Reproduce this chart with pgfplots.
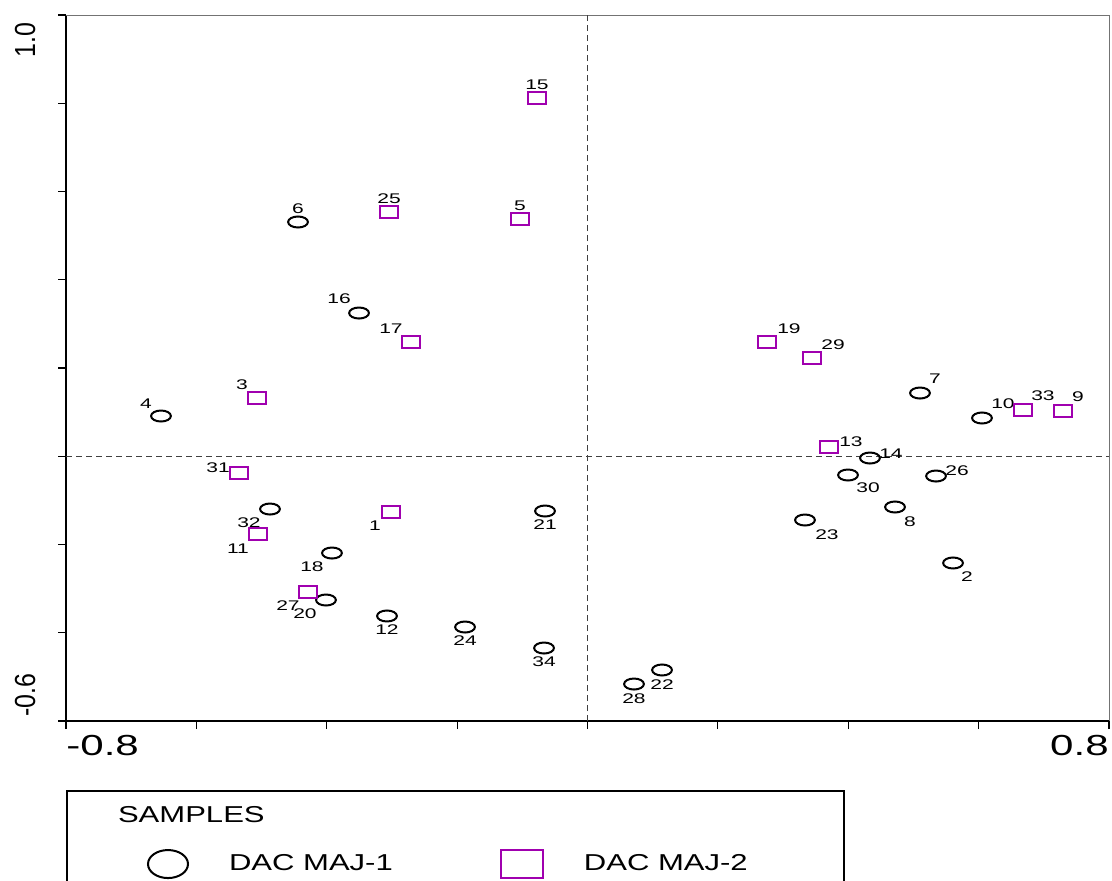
\documentclass[border=0pt]{standalone}
\usepackage{pgfplots}
\pgfplotsset{compat=1.18}
\usepackage{fontspec}
\setmainfont{Liberation Sans}
\usepackage{graphicx}
\definecolor{mag}{RGB}{160,0,175}
\begin{document}
\begin{tikzpicture}
\path[use as bounding box] (0,0) rectangle (556pt,440pt);
\clip (0,0) rectangle (556pt,440pt);
\begin{axis}[
  at={(33pt,79.5pt)}, anchor=south west,
  scale only axis, width=521.5pt, height=353pt,
  xmin=-0.8, xmax=0.8, ymin=-0.6, ymax=1.0,
  axis x line*=bottom, axis y line*=left,
  x axis line style={-, line width=1pt, black},
  y axis line style={-, line width=1pt, black},
  xtick={-0.8,-0.6,-0.4,-0.2,0,0.2,0.4,0.6,0.8},
  ytick={-0.6,-0.4,-0.2,0,0.2,0.4,0.6,0.8,1.0},
  xticklabels={}, yticklabels={},
  tick align=outside, major tick length=4pt,
  tick style={line width=0.6pt, black},
  clip=false,
  legend columns=2,
  legend cell align=left,
  legend style={
    at={(0,-0.0977)}, anchor=north west,
    draw=black, line width=1pt,
    inner xsep=40pt, inner ysep=7.5pt,
    font=\fontsize{11.5}{13}\selectfont,
    row sep=12pt,
    nodes={inner sep=0pt},
    /tikz/every odd column/.append style={column sep=20pt},
    /tikz/every even column/.append style={column sep=53.5pt},
  },
]
\addlegendimage{empty legend}
\addlegendentry{\makebox[0pt][l]{\hspace{-56pt}\scalebox{1.35}[1]{SAMPLES}}}
\addlegendimage{empty legend}
\addlegendentry{}
\addlegendimage{legend image code/.code={\draw[black,line width=1pt] (0pt,0pt) ellipse (10pt and 7pt);}}
\addlegendentry{\scalebox{1.35}[1]{DAC MAJ-1}}
\addlegendimage{legend image code/.code={\draw[mag,line width=1pt] (-10.5pt,-7pt) rectangle (10.5pt,7pt);}}
\addlegendentry{\scalebox{1.35}[1]{DAC MAJ-2}\hspace*{8pt}}

% frame top/right
\draw[black!55, line width=0.5pt] (rel axis cs:0,1) -- (rel axis cs:1,1) -- (rel axis cs:1,0);

% dashed zero lines
\addplot[forget plot, black!75, line width=0.5pt, dash pattern=on 3pt off 2pt] coordinates {(0,-0.6) (0,1.0)};
\addplot[forget plot, black!75, line width=0.5pt, dash pattern=on 3pt off 2pt] coordinates {(-0.8,0) (0.8,0)};

% DAC MAJ-1 (circles)
\addplot[forget plot, only marks, mark=o, mark size=2.75pt, black, line width=1pt,
  mark options={xscale=1.8},
  point meta=explicit symbolic,
  visualization depends on={\thisrow{dx} \as \mydx},
  visualization depends on={\thisrow{dy} \as \mydy},
  nodes near coords={\scalebox{1.5}[1]{\pgfplotspointmeta}},
  every node near coord/.append style={anchor=center, inner sep=0pt, xshift=\mydx pt, yshift=\mydy pt, font=\fontsize{7}{8}\selectfont, text=black},
] table[meta=lab] {
x y lab dx dy
-0.4441 0.5309 6 0 6.5
-0.3505 0.3246 16 -10 7
-0.6543 0.0912 4 -7.5 6
-0.4871 -0.1196 32 -10.5 -7
-0.3920 -0.2193 18 -10 -7
-0.4012 -0.3258 20 -10.5 -7
-0.3076 -0.3620 12 0 -7
-0.1879 -0.3870 24 0 -7
-0.0667 -0.4346 34 0 -7
-0.0652 -0.1241 21 0 -7
0.0713 -0.5162 28 0 -7.5
0.1143 -0.4844 22 0 -7.5
0.5100 0.1433 7 7.5 7
0.6051 0.0867 10 10.5 7
0.4333 -0.0040 14 10.5 2
0.3996 -0.0425 30 10 -6.5
0.5346 -0.0448 26 10.5 2.5
0.4717 -0.1150 8 7.5 -7.5
0.3336 -0.1445 23 11 -7.5
0.5607 -0.2419 2 7 -7
};

% DAC MAJ-2 (squares)
\addplot[forget plot, only marks, mark=square, mark size=3.1pt, mag, line width=1pt,
  mark options={xscale=1.5},
  point meta=explicit symbolic,
  visualization depends on={\thisrow{dx} \as \mydx},
  visualization depends on={\thisrow{dy} \as \mydy},
  nodes near coords={\scalebox{1.5}[1]{\pgfplotspointmeta}},
  every node near coord/.append style={anchor=center, inner sep=0pt, xshift=\mydx pt, yshift=\mydy pt, font=\fontsize{7}{8}\selectfont, text=black},
] table[meta=lab] {
x y lab dx dy
-0.0775 0.8119 15 0 6.5
-0.3045 0.5535 25 0 6.5
-0.1036 0.5377 5 0 6.5
-0.2708 0.2589 17 -10 6.5
-0.5070 0.1320 3 -7.5 6.5
-0.5346 -0.0380 31 -10.5 2.5
-0.5055 -0.1762 11 -10 -7.5
-0.3014 -0.1263 1 -8 -7
-0.4288 -0.3077 27 -10 -7
0.2753 0.2589 19 11 6.5
0.3444 0.2227 29 10.5 6.5
0.3704 0.0210 13 11 2.5
0.6680 0.1048 33 10 7
0.7294 0.1025 9 7.5 7
};

% tick labels
\node[anchor=north west, inner sep=0pt, font=\fontsize{14.5}{16}\selectfont] at ([yshift=-7pt]rel axis cs:0,0) {\scalebox{1.45}[1]{-0.8}};
\node[anchor=north east, inner sep=0pt, font=\fontsize{14.5}{16}\selectfont] at ([yshift=-7pt]rel axis cs:1,0) {\scalebox{1.45}[1]{0.8}};
\node[rotate=90, anchor=base east, inner sep=0pt, font=\fontsize{14.5}{16}\selectfont] at ([xshift=-15.5pt, yshift=-3.5pt]rel axis cs:0,1) {\scalebox{0.86}[1]{1.0}};
\node[rotate=90, anchor=base west, inner sep=0pt, font=\fontsize{14.5}{16}\selectfont] at ([xshift=-15.5pt, yshift=2pt]rel axis cs:0,0) {\scalebox{0.86}[1]{-0.6}};
\end{axis}
\end{tikzpicture}
\end{document}
